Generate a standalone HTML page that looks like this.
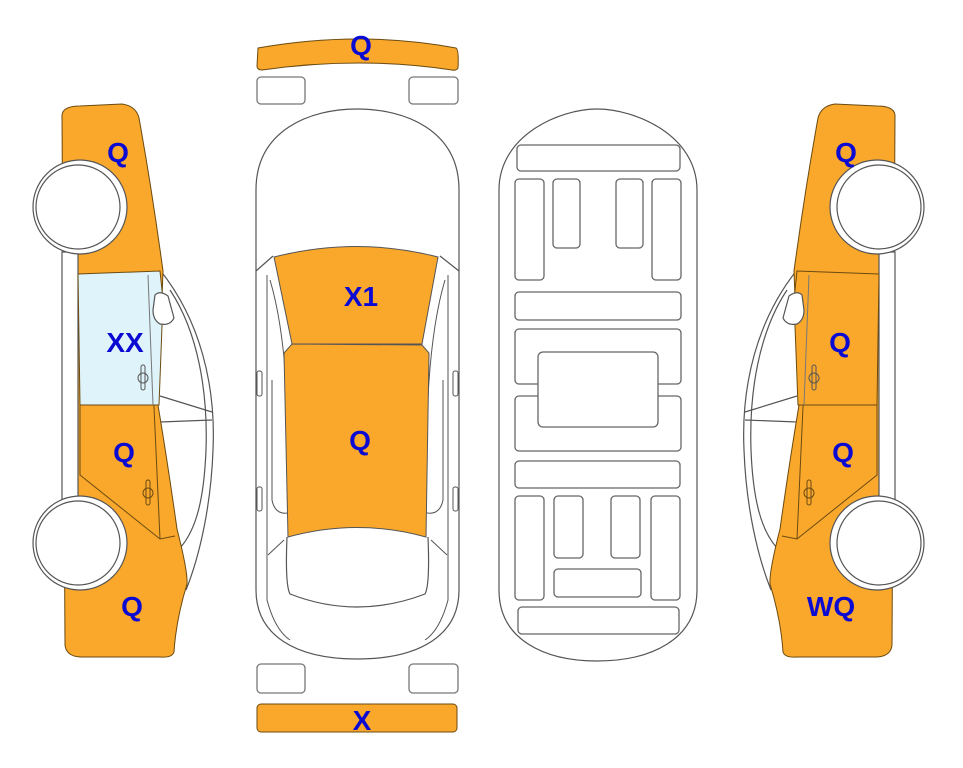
<!DOCTYPE html>
<html><head><meta charset="utf-8"><style>
html,body{margin:0;padding:0;background:#fff;}
svg{display:block;}
text{font-family:"Liberation Sans",Arial,sans-serif;font-weight:bold;font-size:28px;fill:#0a0ad2;text-anchor:middle;}
</style></head><body>
<svg width="963" height="768" viewBox="0 0 963 768" xmlns="http://www.w3.org/2000/svg">
<defs>
<g id="side">
  <path d="M160,270 C200,320 216,385 213,450 C211,505 200,555 186,590" fill="none" stroke="#555" stroke-width="1.2"/>
  <path d="M170,290 C198,332 208,392 206,450 C204,500 196,530 180,548" fill="none" stroke="#555" stroke-width="1.2"/>
  <path d="M160,396 L212,412 M160,422 L212,420" fill="none" stroke="#555" stroke-width="1.2"/>
  <path d="M62,115 Q63,106 80,106 L122,104 Q136,106 139,118 Q152,190 163,271 L158,405 Q168,465 177,529 Q188,572 187,584 Q176,620 174,652 Q172,658 160,657 L80,657 Q66,656 65,645 Z" fill="#f9a82c" stroke="#6b4a10" stroke-width="1"/>
  <rect x="62" y="252" width="16" height="250" fill="#fff" stroke="#555" stroke-width="1.2"/>
  <path d="M80,405 L80,475 L160,539 L175,536" fill="none" stroke="#6b4a10" stroke-width="1"/>
  <path d="M148,275 L160,539" fill="none" stroke="#6b4a10" stroke-width="1"/>
  <path d="M78,274 L160,271 L163,300 L159,405 L80,405 Z" style="fill:var(--win)" stroke="#6b4a10" stroke-width="1"/>
  <path d="M148,275 L153,405" stroke="#777" stroke-width="1" fill="none"/>
  <path d="M155,295 Q160,290 168,296 L174,318 Q170,326 160,324 Q153,320 153,310 Z" fill="#fff" stroke="#555" stroke-width="1.2"/>
  <rect x="141" y="365" width="4" height="25" rx="2" fill="none" stroke="#555"/>
  <ellipse cx="143" cy="378" rx="5" ry="5" fill="none" stroke="#555"/>
  <rect x="146" y="480" width="4" height="25" rx="2" fill="none" stroke="#6b4a10"/>
  <ellipse cx="148" cy="493" rx="5" ry="5" fill="none" stroke="#6b4a10"/>
  <circle cx="80" cy="207" r="47" fill="#fff" stroke="#555" stroke-width="1.2"/>
  <circle cx="78" cy="207" r="42" fill="#fff" stroke="#555" stroke-width="1.2"/>
  <circle cx="80" cy="543" r="47" fill="#fff" stroke="#555" stroke-width="1.2"/>
  <circle cx="78" cy="543" r="42" fill="#fff" stroke="#555" stroke-width="1.2"/>
</g>
</defs>
<g style="--win:#dff3fb"><use href="#side"/></g>
<g style="--win:#f9a82c" transform="translate(957,0) scale(-1,1)"><use href="#side"/></g>

<path d="M258,48 Q360,30 456,48 Q459,50 458,68 Q456,71 452,70 Q360,56 262,70 Q257,70 257,66 Z" fill="#f9a82c" stroke="#6b4a10" stroke-width="1"/>
<rect x="257" y="77" width="48" height="27" rx="4" fill="#fff" stroke="#777" stroke-width="1.3"/>
<rect x="409" y="77" width="49" height="27" rx="4" fill="#fff" stroke="#777" stroke-width="1.3"/>
<rect x="257" y="664" width="48" height="29" rx="4" fill="#fff" stroke="#777" stroke-width="1.3"/>
<rect x="409" y="664" width="49" height="29" rx="4" fill="#fff" stroke="#777" stroke-width="1.3"/>
<rect x="257" y="704" width="200" height="28" rx="4" fill="#f9a82c" stroke="#6b4a10" stroke-width="1"/>

<path d="M256,190 C256,130 310,109 357,109 C405,109 459,130 459,190 L459,590 C459,635 420,659 357,659 C295,659 256,635 256,590 Z" fill="#fff" stroke="#555" stroke-width="1.2"/>
<path d="M256,271 L273,256 M459,271 L440,256" stroke="#555" stroke-width="1.2" fill="none"/>
<path d="M267,275 L267,600 Q275,630 290,640 M448,275 L448,600 Q440,630 425,640" stroke="#555" stroke-width="1" fill="none"/>
<path d="M270,280 Q285,330 288,420 M445,280 Q430,330 427,420" stroke="#555" stroke-width="1" fill="none"/>
<path d="M272,380 L272,500 Q275,515 288,513 M443,380 L443,500 Q440,515 427,513" stroke="#555" stroke-width="1" fill="none"/>
<path d="M284,540 L268,555 M431,540 L447,555" stroke="#555" stroke-width="1" fill="none"/>
<path d="M287,537 Q285,585 290,594 Q357,620 425,594 Q430,585 428,537" fill="#fff" stroke="#555" stroke-width="1.2"/>
<rect x="257" y="371" width="5" height="25" rx="2" fill="#fff" stroke="#555"/>
<rect x="453" y="371" width="5" height="25" rx="2" fill="#fff" stroke="#555"/>
<rect x="257" y="487" width="5" height="24" rx="2" fill="#fff" stroke="#555"/>
<rect x="453" y="487" width="5" height="24" rx="2" fill="#fff" stroke="#555"/>
<path d="M274,257 Q357,236 438,257 L422,344 L292,344 Z" fill="#f9a82c" stroke="#555" stroke-width="1"/>
<path d="M292,344 L422,345 L429,353 L426,537 Q357,518 288,537 L284,353 Z" fill="#f9a82c" stroke="#555" stroke-width="1"/>

<g fill="#fff" stroke="#666" stroke-width="1.3">
<path d="M499,190 C499,135 560,109 597,109 C635,109 697,135 697,190 L697,590 C697,640 650,661 597,661 C545,661 499,640 499,590 Z" stroke="#555" stroke-width="1.2"/>
<rect x="517" y="145" width="163" height="26" rx="4"/>
<rect x="515" y="179" width="29" height="101" rx="4"/>
<rect x="553" y="179" width="27" height="69" rx="4"/>
<rect x="616" y="179" width="27" height="69" rx="4"/>
<rect x="652" y="179" width="29" height="101" rx="4"/>
<rect x="515" y="292" width="166" height="28" rx="4"/>
<rect x="515" y="329" width="166" height="55" rx="4"/>
<rect x="515" y="396" width="166" height="55" rx="4"/>
<rect x="538" y="352" width="120" height="75" rx="5"/>
<rect x="515" y="461" width="165" height="27" rx="4"/>
<rect x="515" y="496" width="29" height="104" rx="4"/>
<rect x="554" y="496" width="29" height="62" rx="4"/>
<rect x="611" y="496" width="29" height="62" rx="4"/>
<rect x="651" y="496" width="29" height="104" rx="4"/>
<rect x="554" y="569" width="87" height="28" rx="4"/>
<rect x="518" y="607" width="161" height="27" rx="4"/>
</g>

<text x="361" y="55">Q</text>
<text x="361" y="306">X1</text>
<text x="360" y="450">Q</text>
<text x="362" y="730">X</text>
<text x="118" y="162">Q</text>
<text x="125" y="352">XX</text>
<text x="124" y="462">Q</text>
<text x="132" y="616">Q</text>
<text x="846" y="162">Q</text>
<text x="840" y="352">Q</text>
<text x="843" y="462">Q</text>
<text x="831" y="616">WQ</text>
</svg>
</body></html>
